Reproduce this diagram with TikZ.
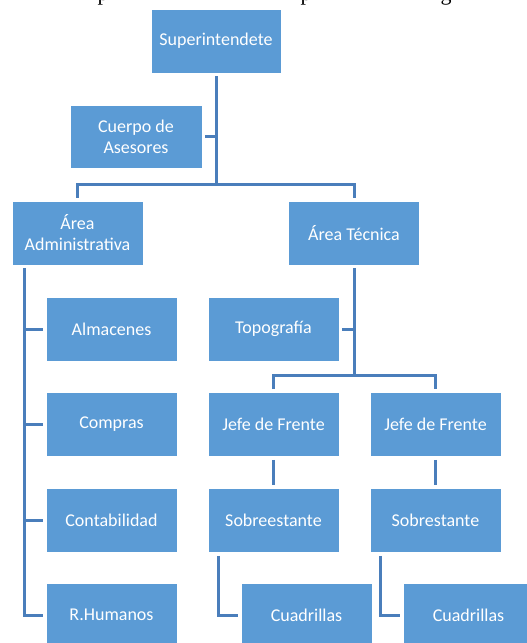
\documentclass[tikz,border=0pt]{standalone}
\usepackage{fontspec}
\newfontfamily\carlito{Carlito}
\newfontfamily\libserif{Liberation Serif}
\definecolor{boxblue}{HTML}{5B9BD5}
\definecolor{lineblue}{HTML}{4A7EBB}
\begin{document}
\begin{tikzpicture}[x=1pt,y=-1pt,
  orgbox/.style={fill=boxblue,draw=white,line width=0.8pt,minimum width=131pt,minimum height=64pt,
    text=white,font=\carlito\fontsize{18}{21}\selectfont,align=center,inner sep=0pt},
  conn/.style={draw=lineblue,line width=3pt},
  frag/.style={font=\libserif\fontsize{22}{26}\selectfont,anchor=base,inner sep=0pt}]
\useasboundingbox (0,0) rectangle (527,643);
\clip (0,0) rectangle (527,643);
% fragments of the text line above the picture
\node[frag] (f1) at (103,0) {p};
\node[frag] (f2) at (306,0) {p};
\node[frag] (f3) at (446,0) {g};
% boxes
\node[orgbox,minimum width=130pt] (sup) at (216,41) {Superintendete};
\node[orgbox,minimum width=132pt,minimum height=63pt] (ase) at (136,136.5) {Cuerpo de\\Asesores};
\node[orgbox] (adm) at (77.5,233) {Área\\Administrativa};
\node[orgbox] (tec) at (354,233) {Área Técnica};
\node[orgbox] (alm) at (111.5,329) {Almacenes};
\node[orgbox] (com) at (111.5,424.5) {Compras};
\node[orgbox] (con) at (111.5,520.5) {Contabilidad};
\node[orgbox] (rh) at (111.5,615) {R.Humanos};
\node[orgbox] (top) at (273.5,329) {Topografía};
\node[orgbox] (jf1) at (273.5,424.5) {Jefe de Frente};
\node[orgbox] (jf2) at (435.5,424.5) {Jefe de Frente};
\node[orgbox] (so1) at (273.5,520.5) {Sobreestante};
\node[orgbox] (so2) at (435.5,520.5) {Sobrestante};
\node[orgbox] (cu1) at (306.5,615) {Cuadrillas};
\node[orgbox] (cu2) at (468.5,615) {Cuadrillas};
% helper coordinates
\coordinate (bar) at (216,184);
\coordinate (lt) at (24,0);
\coordinate (bar2) at (354,375);
% connectors
\draw[conn] ([yshift=-3pt]sup.south) -- (bar);
\draw[conn] ([xshift=3pt]ase.east) -- (ase.east -| bar);
\draw[conn] ([yshift=3pt]adm.north) -- (adm.north |- bar) -- (tec.north |- bar) -- ([yshift=3pt]tec.north);
\draw[conn] ([yshift=-3pt]adm.south -| lt) -- (lt |- rh) -- ([xshift=-3pt]rh.west);
\draw[conn] (lt |- alm) -- ([xshift=-3pt]alm.west);
\draw[conn] (lt |- com) -- ([xshift=-3pt]com.west);
\draw[conn] (lt |- con) -- ([xshift=-3pt]con.west);
\draw[conn] ([yshift=-3pt]tec.south) -- (bar2);
\draw[conn] ([xshift=3pt]top.east) -- (top.east -| bar2);
\draw[conn] ([yshift=3pt]jf1.north) -- (jf1.north |- bar2) -- (jf2.north |- bar2) -- ([yshift=3pt]jf2.north);
\draw[conn] ([yshift=-3pt]jf1.south) -- ([yshift=3pt]so1.north);
\draw[conn] ([yshift=-3pt]jf2.south) -- ([yshift=3pt]so2.north);
\draw[conn] ([xshift=11pt,yshift=-3pt]so1.south west) -- ([xshift=11pt]so1.south west |- cu1.west) -- ([xshift=-3pt]cu1.west);
\draw[conn] ([xshift=11pt,yshift=-3pt]so2.south west) -- ([xshift=11pt]so2.south west |- cu2.west) -- ([xshift=-3pt]cu2.west);
\end{tikzpicture}
\end{document}
